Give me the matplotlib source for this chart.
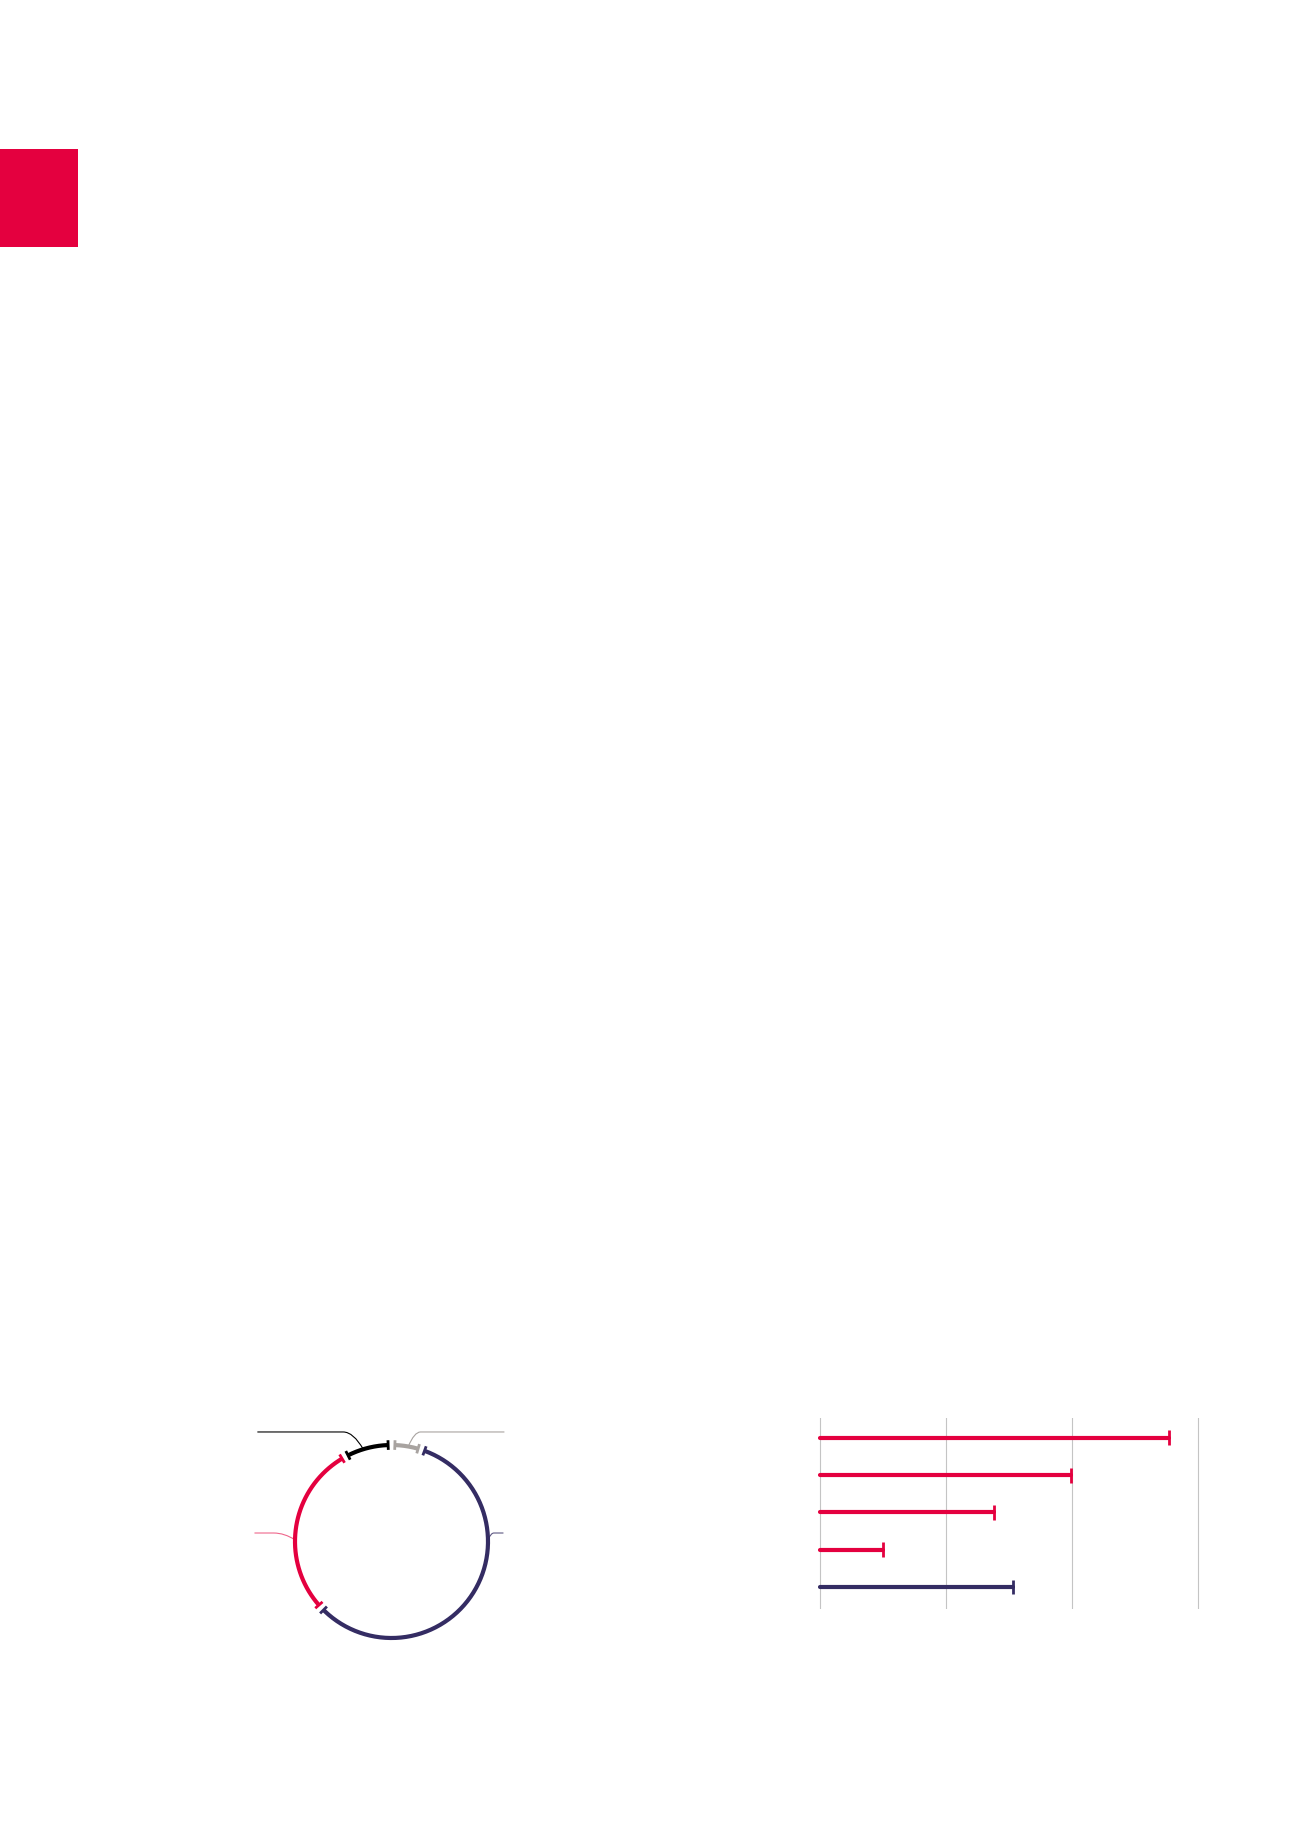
import numpy as np
import matplotlib
matplotlib.use("Agg")
import matplotlib.pyplot as plt
from matplotlib.patches import Rectangle, PathPatch
from matplotlib.path import Path

# donut shares (clockwise from top)
donut_names = ["gray", "navy", "red", "black"]
donut_values = [5, 58, 29, 8]
donut_colors = ["#a8a3a0", "#342c63", "#e4003f", "#000000"]

# bar chart values
bar_values = [27.7, 19.9, 13.8, 5.0, 15.3]
bar_colors = ["#e4003f", "#e4003f", "#e4003f", "#e4003f", "#342c63"]
grid_ticks = [0, 10, 20, 30]

W, H = 1300, 1839
fig = plt.figure(figsize=(W / 100, H / 100), dpi=100)

def px_axes(left, top, width, height):
    # place an axes using pixel coords measured from the top-left corner
    return fig.add_axes([left / W, (H - top - height) / H, width / W, height / H])

# red block on the left edge
fig.patches.append(Rectangle((0, 1 - 247 / H), 78 / W, 98 / H, transform=fig.transFigure,
                             facecolor="#e4003f", edgecolor="none"))

# ---- donut ----
R_PX = 96.5
ax = px_axes(391.5 - 2 * R_PX, 1541.5 - 2 * R_PX, 4 * R_PX, 4 * R_PX)
ax.set_xlim(-2, 2)
ax.set_ylim(-2, 2)
ax.set_aspect("equal")
ax.axis("off")

gap = 4.0
total = sum(donut_values)
start = 0.0
for val, col in zip(donut_values, donut_colors):
    span = 360.0 * val / total
    a0, a1 = start + gap / 2, start + span - gap / 2
    t = np.radians(np.linspace(a0, a1, 200))
    ax.plot(np.sin(t), np.cos(t), color=col, lw=3.0, solid_capstyle="butt")
    for a in (a0, a1):  # end caps
        ar = np.radians(a)
        ax.plot([0.95 * np.sin(ar), 1.05 * np.sin(ar)], [0.95 * np.cos(ar), 1.05 * np.cos(ar)],
                color=col, lw=2.0, solid_capstyle="butt")
    start += span

def leader(x_end, y_lvl, x_knee, ang, col, lw=0.8, alpha=1.0):
    ar = np.radians(ang)
    px, py = np.sin(ar), np.cos(ar)
    kx = x_knee + (px - x_knee) * 0.5
    verts = [(x_end, y_lvl), (x_knee, y_lvl), (kx, y_lvl), (px, py)]
    codes = [Path.MOVETO, Path.LINETO, Path.CURVE3, Path.CURVE3]
    ax.add_patch(PathPatch(Path(verts, codes), facecolor="none", edgecolor=col, lw=lw, alpha=alpha))

leader(-1.39, 1.135, -0.50, 343, "#000000")
leader(1.17, 1.135, 0.30, 10, "#a8a3a0")
leader(-1.42, 0.088, -1.22, 271, "#e4003f", alpha=0.6)
leader(1.16, 0.088, 1.06, 89, "#342c63", alpha=0.8)

# ---- bars ----
px_unit = 12.6
bx = px_axes(820 - px_unit, 1418, 32 * px_unit, 191)
y = np.arange(len(bar_values))
bx.set_xlim(-1, 31)
bx.set_ylim(4.59, -0.53)
for tk in grid_ticks:
    bx.axvline(tk, color="#c4c4c4", lw=0.8, zorder=0)
bx.hlines(y, 0, bar_values, colors=bar_colors, lw=3.0, capstyle="round", zorder=2)
bx.vlines(bar_values, y - 0.2, y + 0.2, colors=bar_colors, lw=2.0, zorder=2)
bx.axis("off")

fig.savefig("out.png", dpi=100, facecolor="white")
